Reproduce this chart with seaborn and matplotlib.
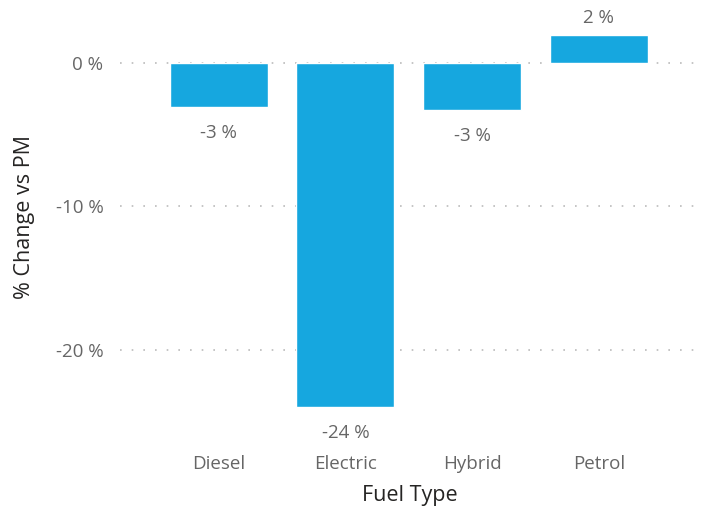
import matplotlib
matplotlib.use("Agg")
import matplotlib.pyplot as plt
import pandas as pd
import seaborn as sns

fuel_types = ["Diesel", "Electric", "Hybrid", "Petrol"]
pct_change = [-3.1, -24.0, -3.3, 1.9]
y_ticks = [0, -10, -20]

BAR = "#16A7DF"
GREY = "#666666"
DARK = "#252423"

sns.set_theme(style="white")
plt.rcParams["font.family"] = ["Open Sans", "DejaVu Sans"]

df = pd.DataFrame({"fuel": fuel_types, "pct": pct_change})

fig = plt.figure(figsize=(7.02, 5.09), dpi=100)
ax = fig.add_axes([120 / 702, 0.172, 580 / 702, 0.8035])
sns.barplot(data=df, x="fuel", y="pct", color=BAR, width=0.775,
            saturation=1, ax=ax, zorder=3)

ax.set_xlim(-0.78, 3.8)
ax.set_ylim(-25, 3.5)
ax.set_yticks(y_ticks)
ax.set_yticklabels([f"{t} %" for t in y_ticks])
for t in y_ticks:
    ax.axhline(t, color="#BBBBBB", lw=1.2, ls=(0, (1, 6)), zorder=1)

for i, v in enumerate(df["pct"]):
    off = 0.6 if v > 0 else -1.2
    ax.text(i, v + off, f"{round(v):.0f} %", ha="center",
            va="bottom" if v > 0 else "top", fontsize=13.5, color=GREY)

ax.tick_params(axis="both", length=0, labelsize=13.5, labelcolor=GREY)
ax.tick_params(axis="y", pad=12)
ax.tick_params(axis="x", pad=24)
ax.set_xlabel("Fuel Type", fontsize=15.5, color=DARK, labelpad=9)
ax.set_ylabel("% Change vs PM", fontsize=15.5, color=DARK, labelpad=15)
sns.despine(ax=ax, left=True, bottom=True)

fig.savefig("out.png", dpi=100)
